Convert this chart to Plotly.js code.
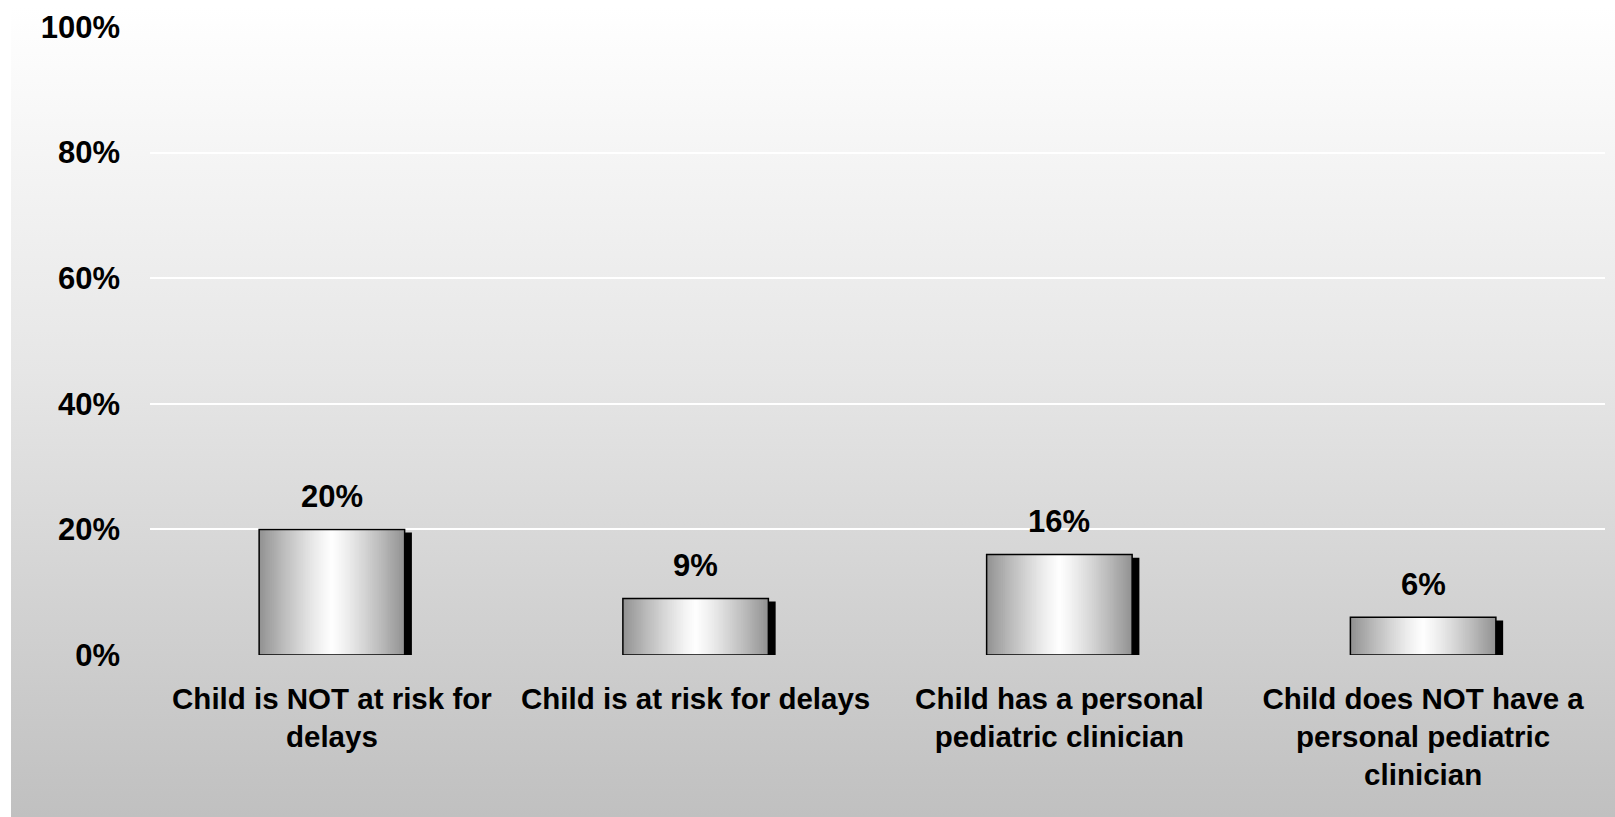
<!DOCTYPE html>
<html>
<head>
<meta charset="utf-8">
<script src="https://cdn.plot.ly/plotly-3.0.1.min.js"></script>
<style>
  html, body { margin: 0; padding: 0; background: #ffffff; }
  #wrap { position: relative; width: 1615px; height: 817px; background: #ffffff; overflow: hidden; }
  #bg { position: absolute; left: 11px; top: 7px; right: 0; bottom: 0;
        background: linear-gradient(to bottom, #ffffff 0%, #e6e6e6 45%, #c0c0c0 100%); }
  #chart { position: absolute; left: 0; top: 0; width: 1615px; height: 817px; }
</style>
</head>
<body>
<div id="wrap"><div id="bg"></div><div id="chart"></div></div>
<script>
// ---- data ----
const categories = [
  "Child is NOT at risk for<br>delays",
  "Child is at risk for delays",
  "Child has a personal<br>pediatric clinician",
  "Child does NOT have a<br>personal pediatric<br>clinician"
];
const values = [20, 9, 16, 6];
const valueLabels = ["20%", "9%", "16%", "6%"];
const yTickValues = [0, 20, 40, 60, 80, 100];
const yTickLabels = ["0%", "20%", "40%", "60%", "80%", "100%"];

// ---- styling ----
const FONT = "Liberation Sans, Arial, Helvetica, sans-serif";
const BAR_W = 0.4;
const traces = [];

// shadow
traces.push({
  type: "bar", x: categories, y: values, base: values.map(() => -0.5),
  width: values.map(() => BAR_W), offset: values.map(() => -BAR_W / 2 + 0.02),
  marker: { color: "#000000", line: { width: 0 } },
  hoverinfo: "skip", showlegend: false
});

// horizontal gradient via nested bars
const N = 40;
for (let i = 0; i < N; i++) {
  const t = 1 - i / N;            // distance from centre (fraction of half width)
  const g = Math.round(255 - 108 * Math.pow(t, 1.2));
  const w = BAR_W * t;
  traces.push({
    type: "bar", x: categories, y: values,
    width: values.map(() => w), offset: values.map(() => -w / 2),
    marker: { color: `rgb(${g},${g},${g})`, line: { width: 0 } },
    hoverinfo: "skip", showlegend: false
  });
}

// outline
traces.push({
  type: "bar", x: categories, y: values,
  width: values.map(() => BAR_W), offset: values.map(() => -BAR_W / 2),
  marker: { color: "rgba(0,0,0,0)", line: { color: "#000000", width: 1.5 } },
  hoverinfo: "skip", showlegend: false
});

const annotations = categories.map((c, i) => ({
  x: c, y: values[i], xref: "x", yref: "y",
  text: valueLabels[i], showarrow: false,
  yanchor: "middle", yshift: 33,
  font: { family: FONT, size: 31, color: "#000000", weight: "bold" }
}));

const layout = {
  width: 1615, height: 817,
  paper_bgcolor: "rgba(0,0,0,0)", plot_bgcolor: "rgba(0,0,0,0)",
  margin: { l: 150, r: 10, t: 26.5, b: 162 },
  barmode: "overlay",
  showlegend: false,
  font: { family: FONT, size: 29.5, color: "#000000", weight: "bold" },
  xaxis: {
    type: "category", showgrid: false, zeroline: false, showline: false,
    ticks: "", ticklabelstandoff: 23, tickangle: 0,
    tickfont: { family: FONT, size: 29.5, color: "#000000", weight: "bold" },
    fixedrange: true
  },
  yaxis: {
    range: [0, 100], tickvals: yTickValues, ticktext: yTickLabels,
    showgrid: true, gridcolor: "#ffffff", gridwidth: 2,
    zeroline: false, showline: false, ticks: "", ticklabelstandoff: 29,
    tickfont: { family: FONT, size: 31, color: "#000000", weight: "bold" },
    fixedrange: true
  },
  annotations: annotations
};

Plotly.newPlot("chart", traces, layout, { displayModeBar: false, staticPlot: true });
</script>
</body>
</html>
